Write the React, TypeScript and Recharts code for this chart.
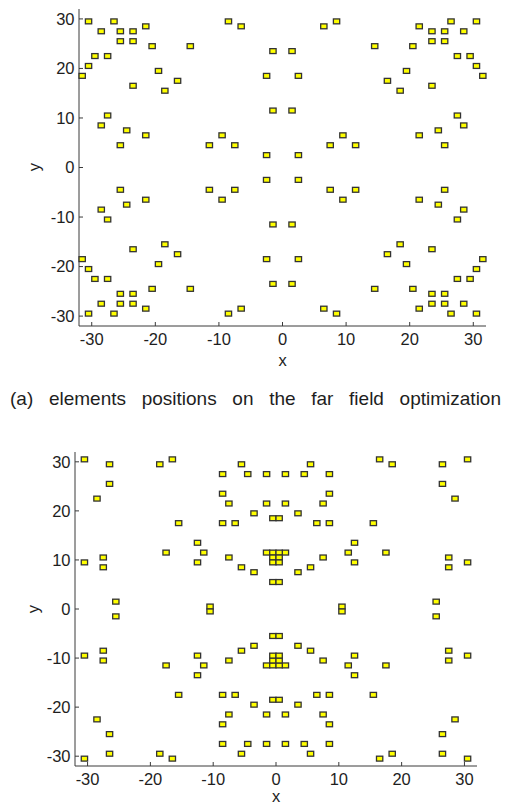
import { ScatterChart, Scatter, XAxis, YAxis } from "recharts";

type Pt = [number, number];

// ── (a) far field optimization: element positions by quadrant ──────────
const farUpperLeft: Pt[] = [
  [-30.5, 29.5], [-28.5, 27.5], [-26.5, 29.5], [-25.5, 27.5], [-23.5, 27.5], [-21.5, 28.5],
  [-25.5, 25.5], [-23.5, 25.5], [-20.5, 24.5], [-14.5, 24.5], [-29.5, 22.5], [-27.5, 22.5],
  [-30.5, 20.5], [-31.5, 18.5], [-19.5, 19.5], [-23.5, 16.5], [-18.5, 15.5], [-16.5, 17.5],
  [-27.5, 10.5], [-28.5, 8.5], [-24.5, 7.5], [-21.5, 6.5], [-25.5, 4.5], [-11.5, 4.5],
  [-9.5, 6.5], [-7.5, 4.5], [-8.5, 29.5], [-6.5, 28.5], [-2.5, 18.5], [-1.5, 23.5],
  [-1.5, 11.5], [-2.5, 2.5],
];
const farUpperRight: Pt[] = [
  [30.5, 29.5], [28.5, 27.5], [26.5, 29.5], [25.5, 27.5], [23.5, 27.5], [21.5, 28.5],
  [25.5, 25.5], [23.5, 25.5], [20.5, 24.5], [14.5, 24.5], [29.5, 22.5], [27.5, 22.5],
  [30.5, 20.5], [31.5, 18.5], [19.5, 19.5], [23.5, 16.5], [18.5, 15.5], [16.5, 17.5],
  [27.5, 10.5], [28.5, 8.5], [24.5, 7.5], [21.5, 6.5], [25.5, 4.5], [11.5, 4.5],
  [9.5, 6.5], [7.5, 4.5], [8.5, 29.5], [6.5, 28.5], [2.5, 18.5], [1.5, 23.5],
  [1.5, 11.5], [2.5, 2.5],
];
const farLowerLeft: Pt[] = [
  [-30.5, -29.5], [-28.5, -27.5], [-26.5, -29.5], [-25.5, -27.5], [-23.5, -27.5], [-21.5, -28.5],
  [-25.5, -25.5], [-23.5, -25.5], [-20.5, -24.5], [-14.5, -24.5], [-29.5, -22.5], [-27.5, -22.5],
  [-30.5, -20.5], [-31.5, -18.5], [-19.5, -19.5], [-23.5, -16.5], [-18.5, -15.5], [-16.5, -17.5],
  [-27.5, -10.5], [-28.5, -8.5], [-24.5, -7.5], [-21.5, -6.5], [-25.5, -4.5], [-11.5, -4.5],
  [-9.5, -6.5], [-7.5, -4.5], [-8.5, -29.5], [-6.5, -28.5], [-2.5, -18.5], [-1.5, -23.5],
  [-1.5, -11.5], [-2.5, -2.5],
];
const farLowerRight: Pt[] = [
  [30.5, -29.5], [28.5, -27.5], [26.5, -29.5], [25.5, -27.5], [23.5, -27.5], [21.5, -28.5],
  [25.5, -25.5], [23.5, -25.5], [20.5, -24.5], [14.5, -24.5], [29.5, -22.5], [27.5, -22.5],
  [30.5, -20.5], [31.5, -18.5], [19.5, -19.5], [23.5, -16.5], [18.5, -15.5], [16.5, -17.5],
  [27.5, -10.5], [28.5, -8.5], [24.5, -7.5], [21.5, -6.5], [25.5, -4.5], [11.5, -4.5],
  [9.5, -6.5], [7.5, -4.5], [8.5, -29.5], [6.5, -28.5], [2.5, -18.5], [1.5, -23.5],
  [1.5, -11.5], [2.5, -2.5],
];

// ── second layout (lower panel) ────────────────────────────────────────
const nearUpperLeft: Pt[] = [
  [-30.5, 30.5], [-26.5, 29.5], [-26.5, 25.5], [-28.5, 22.5], [-30.5, 9.5], [-27.5, 10.5],
  [-27.5, 8.5], [-25.5, 1.5], [-18.5, 29.5], [-16.5, 30.5], [-15.5, 17.5], [-17.5, 11.5],
  [-12.5, 13.5], [-11.5, 11.5], [-12.5, 9.5], [-10.5, 0.5], [-8.5, 27.5], [-5.5, 29.5],
  [-4.5, 27.5], [-1.5, 27.5], [-8.5, 23.5], [-7.5, 21.5], [-1.5, 21.5], [-3.5, 19.5],
  [-8.5, 17.5], [-6.5, 17.5], [-0.5, 18.5], [-7.5, 10.5], [-5.5, 8.5], [-3.5, 7.5],
  [-1.5, 11.5], [-0.5, 11.5], [-0.5, 10.5], [-0.5, 9.5], [-0.5, 5.5],
];
const nearUpperRight: Pt[] = [
  [30.5, 30.5], [26.5, 29.5], [26.5, 25.5], [28.5, 22.5], [30.5, 9.5], [27.5, 10.5],
  [27.5, 8.5], [25.5, 1.5], [18.5, 29.5], [16.5, 30.5], [15.5, 17.5], [17.5, 11.5],
  [12.5, 13.5], [11.5, 11.5], [12.5, 9.5], [10.5, 0.5], [8.5, 27.5], [5.5, 29.5],
  [4.5, 27.5], [1.5, 27.5], [8.5, 23.5], [7.5, 21.5], [1.5, 21.5], [3.5, 19.5],
  [8.5, 17.5], [6.5, 17.5], [0.5, 18.5], [7.5, 10.5], [5.5, 8.5], [3.5, 7.5],
  [1.5, 11.5], [0.5, 11.5], [0.5, 10.5], [0.5, 9.5], [0.5, 5.5],
];
const nearLowerLeft: Pt[] = [
  [-30.5, -30.5], [-26.5, -29.5], [-26.5, -25.5], [-28.5, -22.5], [-30.5, -9.5], [-27.5, -10.5],
  [-27.5, -8.5], [-25.5, -1.5], [-18.5, -29.5], [-16.5, -30.5], [-15.5, -17.5], [-17.5, -11.5],
  [-12.5, -13.5], [-11.5, -11.5], [-12.5, -9.5], [-10.5, -0.5], [-8.5, -27.5], [-5.5, -29.5],
  [-4.5, -27.5], [-1.5, -27.5], [-8.5, -23.5], [-7.5, -21.5], [-1.5, -21.5], [-3.5, -19.5],
  [-8.5, -17.5], [-6.5, -17.5], [-0.5, -18.5], [-7.5, -10.5], [-5.5, -8.5], [-3.5, -7.5],
  [-1.5, -11.5], [-0.5, -11.5], [-0.5, -10.5], [-0.5, -9.5], [-0.5, -5.5],
];
const nearLowerRight: Pt[] = [
  [30.5, -30.5], [26.5, -29.5], [26.5, -25.5], [28.5, -22.5], [30.5, -9.5], [27.5, -10.5],
  [27.5, -8.5], [25.5, -1.5], [18.5, -29.5], [16.5, -30.5], [15.5, -17.5], [17.5, -11.5],
  [12.5, -13.5], [11.5, -11.5], [12.5, -9.5], [10.5, -0.5], [8.5, -27.5], [5.5, -29.5],
  [4.5, -27.5], [1.5, -27.5], [8.5, -23.5], [7.5, -21.5], [1.5, -21.5], [3.5, -19.5],
  [8.5, -17.5], [6.5, -17.5], [0.5, -18.5], [7.5, -10.5], [5.5, -8.5], [3.5, -7.5],
  [1.5, -11.5], [0.5, -11.5], [0.5, -10.5], [0.5, -9.5], [0.5, -5.5],
];

const TICKS = [-30, -20, -10, 0, 10, 20, 30];
const DOMAIN: [number, number] = [-32, 32];
const CAPTION = "(a) elements positions on the far field optimization";

const FONT = '"Liberation Sans", Arial, sans-serif';
const INK = "#1e1e1e";
const AXIS = "#3a3a3a";

const toPoints = (...groups: Pt[][]) => groups.flat().map(([x, y]) => ({ x, y }));

const farData = toPoints(farUpperLeft, farUpperRight, farLowerLeft, farLowerRight);
const nearData = toPoints(nearUpperLeft, nearUpperRight, nearLowerLeft, nearLowerRight);

// inward MATLAB-style ticks, drawn together with the labels
function XTick({ x, y, payload }: any) {
  return (
    <g>
      <line x1={x} x2={x} y1={y} y2={y - 4} stroke={AXIS} />
      <text x={x} y={y + 13} dy="0.35em" textAnchor="middle" fontSize={16.5} fill={INK} fontFamily={FONT}>
        {payload.value}
      </text>
    </g>
  );
}

function YTick({ x, y, payload }: any) {
  return (
    <g>
      <line x1={x} x2={x + 4} y1={y} y2={y} stroke={AXIS} />
      <text x={x - 4.5} y={y} dy="0.35em" textAnchor="end" fontSize={16.5} fill={INK} fontFamily={FONT}>
        {payload.value}
      </text>
    </g>
  );
}

function Element(props: any) {
  const { cx, cy } = props;
  return (
    <rect x={cx - 3.15} y={cy - 2.45} width={6.3} height={4.9} fill="#ffff00" stroke="#333" strokeWidth={1.3} />
  );
}

function Panel({ data, margin, yWidth, labelOffset }: {
  data: { x: number; y: number }[]; margin: any; yWidth: number; labelOffset: number;
}) {
  return (
    <ScatterChart width={511} height={366 + margin.bottom} margin={margin}>
      <XAxis
        type="number" dataKey="x" domain={DOMAIN} ticks={TICKS} interval={0}
        height={40} tickSize={0} tickMargin={0} tickLine={false}
        axisLine={{ stroke: AXIS }} tick={<XTick />}
        label={{ value: "x", position: "insideBottom", offset: labelOffset, fontSize: 16.5, fill: INK, fontFamily: FONT }}
      />
      <YAxis
        type="number" dataKey="y" domain={DOMAIN} ticks={TICKS} interval={0}
        width={yWidth} tickSize={0} tickMargin={0} tickLine={false}
        axisLine={{ stroke: AXIS }} tick={<YTick />}
      />
      <Scatter data={data} shape={<Element />} isAnimationActive={false} />
    </ScatterChart>
  );
}

const yLabel = (left: number, top: number) => (
  <div
    style={{
      position: "absolute", left: left - 10, top: top - 10, width: 20, height: 20,
      lineHeight: "20px", textAlign: "center", fontSize: 16.5, fontFamily: FONT, color: INK,
      transform: "rotate(-90deg)",
    }}
  >
    y
  </div>
);

export default function App() {
  return (
    <div style={{ position: "absolute", left: 0, top: 0, width: 511, height: 806, background: "#fff", overflow: "hidden" }}>
      <div style={{ position: "absolute", left: 0, top: 0 }}>
        <Panel data={farData} margin={{ top: 9, right: 25, bottom: 10, left: 0 }} yWidth={79} labelOffset={0} />
      </div>
      {yLabel(34, 167)}
      <div
        style={{
          position: "absolute", left: 10, top: 389, width: 491, fontSize: 19, lineHeight: "20px",
          fontFamily: FONT, color: INK, textAlignLast: "justify", whiteSpace: "nowrap",
        }}
      >
        {CAPTION}
      </div>
      <div style={{ position: "absolute", left: 0, top: 440 }}>
        <Panel data={nearData} margin={{ top: 12, right: 34, bottom: 0, left: 0 }} yWidth={75} labelOffset={4} />
      </div>
      {yLabel(33, 609)}
    </div>
  );
}
